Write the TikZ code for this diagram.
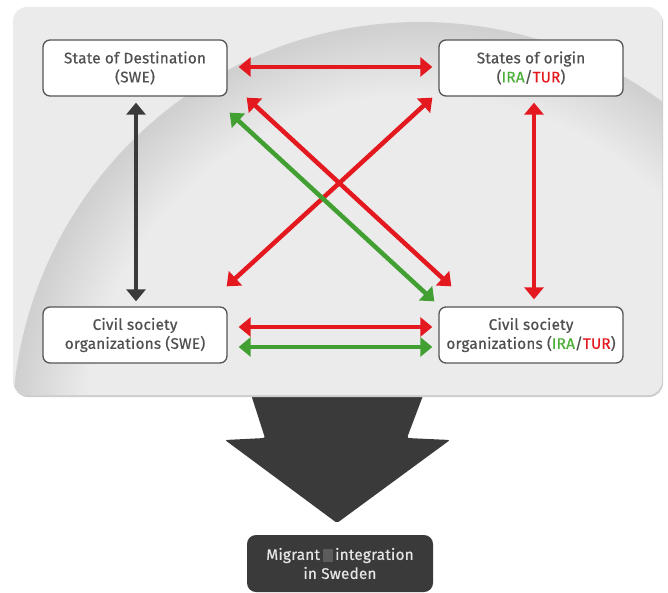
\documentclass[tikz,border=0pt]{standalone}
\usepackage{fontspec}
\setmainfont{Fira Sans}
\newfontfamily\boxfont{Fira Sans}[FakeBold=0.6,LetterSpace=1.5]
\usetikzlibrary{arrows.meta,calc}
\definecolor{pan}{HTML}{EBEBEB}
\definecolor{rim}{HTML}{D0D0D0}
\definecolor{myred}{HTML}{E3191F}
\definecolor{mygreen}{HTML}{42A032}
\definecolor{txtgreen}{HTML}{4CAF3A}
\definecolor{mydark}{HTML}{3A3A3A}
\definecolor{txt}{HTML}{505050}
\definecolor{bord}{HTML}{555555}
\definecolor{sq}{HTML}{5C5C5C}
\pgfdeclareradialshading{sphere}{\pgfpoint{0bp}{0bp}}{color(0bp)=(pan);color(20.5bp)=(pan);color(24.8bp)=(rim);color(25bp)=(rim);color(50bp)=(rim)}
\begin{document}
\begin{tikzpicture}[x=1pt,y=-1pt,
  box/.style={draw=bord, line width=1.3pt, fill=white, rounded corners=7pt,
    minimum width=184pt, minimum height=56pt, align=center,
    font=\boxfont\fontsize{15.3}{19}\selectfont, text=txt, inner sep=0pt},
  link/.style={line width=4.5pt, {Triangle[length=12pt,width=19pt]}-{Triangle[length=12pt,width=19pt]}},
]
\useasboundingbox (0,0) rectangle (668,593);
% big arrow
\fill[mydark, rounded corners=2pt] (248,385) -- (427,385) -- (407,438) -- (450,440) -- (337,523) -- (225,440) -- (265,438) -- cycle;
% panel
\fill[gray!40, rounded corners=14pt] (14,9) rectangle (663,397);
\fill[pan, rounded corners=14pt] (13,7) rectangle (662,395);
\begin{scope}
  \clip[rounded corners=14pt] (13,7) rectangle (662,395);
  \shade[shading=sphere] (420,430) circle[radius=408pt];
\end{scope}
% nodes
\node[box] (tl) at (135,68) {State of Destination\\(SWE)};
\node[box] (tr) at (531,68) {States of origin\\(\textcolor{txtgreen}{IRA}/\textcolor{myred}{TUR})};
\node[box] (bl) at (135,335) {Civil society\\organizations (SWE)};
\node[box] (br) at (531,335) {Civil society\\organizations (\textcolor{txtgreen}{IRA}/\textcolor{myred}{TUR})};
\node[box, fill=mydark, draw=none, text=white!90!black, minimum width=186pt,
  minimum height=57pt, rounded corners=9pt] (res) at (340,563.5)
  {Migrant\,\textcolor{sq}{\rule[-2pt]{10pt}{13pt}}\,integration\\in Sweden};
% connectors
\draw[link, myred] ($(tl.east)+(11,-1)$) -- ($(tr.west)+(-6,-1)$);
\draw[link, mydark] ($(tl.south)+(1,6)$) -- ($(bl.north)+(1,-5)$);
\draw[link, myred] ($(tr.south)+(3,6)$) -- ($(br.north)+(3,-7)$);
\draw[link, myred] ($(tr.south west)+(-6,1)$) -- ($(bl.north east)+(-1,-20)$);
\draw[link, myred] ($(tl.south east)+(19,1)$) -- ($(br.north west)+(13,-20)$);
\draw[link, mygreen] ($(tl.south east)+(2,16)$) -- ($(br.north west)+(-4,-5)$);
\draw[link, myred] ($(bl.east)+(11,-8)$) -- ($(br.west)+(-6,-8)$);
\draw[link, mygreen] ($(bl.east)+(11,12)$) -- ($(br.west)+(-6,12)$);
\end{tikzpicture}
\end{document}
